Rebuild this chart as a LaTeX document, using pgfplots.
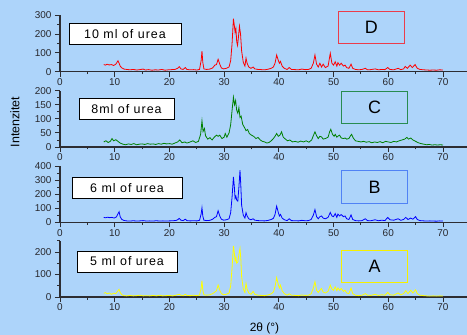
\documentclass[border=0pt]{standalone}
\usepackage{fontspec}
\setmainfont{Liberation Sans}
\newfontfamily\boxfont[LetterSpace=8]{Liberation Sans}
\usepackage{pgfplots}
\pgfplotsset{compat=1.18}
\definecolor{bg}{RGB}{173,212,250}
\definecolor{axgray}{RGB}{45,45,50}
\definecolor{lblgray}{RGB}{40,40,45}
\definecolor{cred}{RGB}{255,0,0}
\definecolor{cgreen}{RGB}{0,128,0}
\definecolor{cblue}{RGB}{0,0,255}
\definecolor{cyellow}{RGB}{255,255,0}
\definecolor{bred}{RGB}{235,60,75}
\definecolor{bgreen}{RGB}{40,140,80}
\definecolor{bblue}{RGB}{80,130,245}
\definecolor{byellow}{RGB}{245,240,0}
\pgfplotsset{panel/.style={
  scale only axis, width=407bp, height=56.3bp,
  anchor=south west,
  xmin=0, xmax=74.39, ymin=0,
  axis lines=left,
  axis line style={-, draw=axgray, line width=1.1bp},
  xtick={0,10,...,70},
  minor x tick num=1,
  minor y tick num=1,
  tick align=outside,
  major tick length=5bp, minor tick length=2.5bp,
  every tick/.style={draw=axgray, line width=0.9bp},
  /pgf/number format/assume math mode=true,
  ticklabel style={font=\fontsize{10}{11}\selectfont, text=lblgray},
  xticklabel style={yshift=1.5bp},
  clip=false,
}}
\begin{document}
\begin{tikzpicture}
\path[use as bounding box, fill=bg] (0,0) rectangle (467bp,335bp);

% Panel D (10 ml)
\begin{axis}[panel, at={(60bp,263.3bp)}, ymax=300, ytick={0,100,200,300}]
\addplot[cred, line width=0.8bp] coordinates {
(8.0,38)(8.3,35)(8.6,40)(9.0,36)(9.4,38)(9.8,33)(10.2,40)(10.6,58)(10.8,45)(11.0,30)(11.3,20)(11.7,14)(12.2,12)(12.8,10)(13.4,12)(14.0,9)(14.6,11)(15.2,14)(15.6,9)(16.2,11)(16.8,8)(17.4,10)(18.0,9)(18.6,12)(19.2,8)(19.8,10)(20.4,11)(21.0,12)(21.5,18)(21.8,27)(22.1,15)(22.5,12)(22.9,22)(23.2,12)(23.8,10)(24.4,11)(25.0,9)(25.5,12)(25.8,60)(25.95,110)(26.1,50)(26.3,15)(26.8,12)(27.4,14)(27.9,20)(28.3,35)(28.6,38)(28.9,66)(29.2,40)(29.5,20)(29.9,15)(30.4,18)(30.9,25)(31.2,60)(31.45,150)(31.7,282)(31.85,250)(32.0,210)(32.15,230)(32.3,160)(32.45,140)(32.6,180)(32.8,242)(33.0,200)(33.2,110)(33.5,50)(33.8,30)(34.0,72)(34.2,45)(34.5,25)(34.9,18)(35.3,25)(35.6,15)(36.2,12)(36.8,11)(37.4,10)(38.0,13)(38.6,18)(39.0,25)(39.3,45)(39.6,89)(39.9,60)(40.1,45)(40.3,55)(40.6,30)(41.0,18)(41.5,12)(41.9,22)(42.3,12)(43.0,11)(43.6,10)(44.2,14)(44.8,11)(45.4,12)(45.9,18)(46.3,45)(46.6,89)(46.9,40)(47.2,25)(47.5,45)(47.8,25)(48.1,40)(48.5,22)(49.0,30)(49.4,98)(49.7,45)(50.0,35)(50.3,53)(50.6,30)(50.8,48)(51.1,35)(51.4,45)(51.8,30)(52.1,35)(52.4,22)(52.8,18)(53.2,40)(53.5,18)(54.0,12)(54.6,10)(55.2,12)(55.8,18)(56.2,10)(56.8,11)(57.6,15)(58.2,10)(58.8,12)(59.4,11)(59.9,22)(60.3,12)(61.0,10)(61.8,18)(62.3,11)(62.8,15)(63.1,28)(63.5,18)(64.0,35)(64.4,22)(64.9,38)(65.3,18)(65.8,12)(66.5,10)(67.0,9)(67.6,8)(68.2,9)(68.8,8)(69.4,10)(70.0,9)
};
\end{axis}

% Panel C (8 ml)
\begin{axis}[panel, at={(60bp,188bp)}, ymax=200, ytick={0,50,100,150,200}]
\addplot[cgreen, line width=0.8bp] coordinates {
(8.0,18)(8.4,22)(8.8,16)(9.2,20)(9.5,30)(9.8,22)(10.2,26)(10.6,20)(11.0,14)(11.5,10)(12.0,8)(12.5,11)(13.0,9)(13.5,12)(14.0,8)(14.5,10)(15.0,11)(15.5,9)(16.0,12)(16.5,10)(17.0,11)(17.5,9)(18.0,12)(18.5,10)(19.0,13)(19.5,11)(20.0,12)(20.5,10)(21.0,14)(21.5,18)(21.9,25)(22.3,15)(22.8,18)(23.2,14)(23.8,18)(24.3,22)(24.8,16)(25.3,20)(25.7,45)(25.95,93)(26.15,55)(26.4,66)(26.6,40)(27.0,28)(27.4,33)(27.8,25)(28.2,35)(28.6,42)(28.9,38)(29.2,42)(29.6,30)(30.0,35)(30.2,48)(30.5,35)(30.9,50)(31.2,80)(31.5,140)(31.7,177)(31.9,150)(32.1,165)(32.3,130)(32.5,120)(32.7,140)(32.9,105)(33.1,110)(33.4,80)(33.7,70)(34.0,58)(34.3,62)(34.6,48)(35.0,42)(35.4,38)(35.8,30)(36.2,34)(36.6,25)(37.0,20)(37.4,18)(37.8,14)(38.2,16)(38.6,22)(39.0,30)(39.3,38)(39.6,48)(39.9,38)(40.2,42)(40.5,54)(40.8,35)(41.2,28)(41.6,22)(42.0,25)(42.5,18)(43.0,20)(43.5,17)(44.0,21)(44.5,18)(45.0,22)(45.5,17)(46.0,25)(46.3,40)(46.6,54)(46.9,40)(47.2,30)(47.5,38)(47.8,36)(48.1,28)(48.5,30)(49.0,35)(49.3,55)(49.5,63)(49.8,45)(50.1,38)(50.3,45)(50.6,35)(50.9,40)(51.1,42)(51.4,32)(51.8,30)(52.1,32)(52.4,28)(52.8,30)(53.1,40)(53.3,45)(53.6,32)(54.0,22)(54.5,20)(55.0,18)(55.5,20)(56.0,17)(56.5,19)(57.0,15)(57.5,18)(58.0,16)(58.5,19)(59.0,15)(59.5,20)(60.0,18)(60.5,16)(61.0,20)(61.5,18)(62.0,22)(62.5,25)(63.0,28)(63.4,34)(63.7,28)(64.1,32)(64.5,25)(65.0,20)(65.5,15)(66.0,12)(66.5,10)(67.0,8)(67.5,9)(68.0,7)(68.5,8)(69.0,7)(69.5,8)(70.0,7)
};
\end{axis}

% Panel B (6 ml)
\begin{axis}[panel, at={(60bp,112.7bp)}, ymax=400, ytick={0,100,200,300,400}]
\addplot[cblue, line width=0.8bp] coordinates {
(8.0,35)(8.3,32)(8.7,36)(9.1,33)(9.5,35)(9.9,30)(10.3,38)(10.6,60)(10.8,75)(11.0,40)(11.3,20)(11.7,13)(12.2,10)(12.8,9)(13.4,11)(14.0,9)(14.6,10)(15.2,12)(15.8,9)(16.4,10)(17.0,9)(17.6,11)(18.2,9)(18.8,10)(19.4,9)(20.0,10)(20.6,11)(21.2,13)(21.5,18)(21.8,28)(22.1,15)(22.5,12)(22.9,22)(23.2,12)(23.8,10)(24.4,11)(25.0,10)(25.5,14)(25.8,60)(25.95,103)(26.1,45)(26.3,15)(26.8,12)(27.4,14)(27.9,22)(28.3,35)(28.6,40)(28.9,82)(29.2,45)(29.5,22)(29.9,15)(30.4,18)(30.9,25)(31.2,70)(31.45,180)(31.7,322)(31.85,260)(32.0,170)(32.15,185)(32.3,158)(32.5,150)(32.7,250)(32.9,370)(33.05,260)(33.2,120)(33.5,50)(33.8,30)(34.0,68)(34.2,45)(34.5,25)(34.9,18)(35.3,25)(35.6,15)(36.2,12)(36.8,11)(37.4,10)(38.0,13)(38.6,20)(39.0,28)(39.3,55)(39.6,115)(39.9,70)(40.1,45)(40.3,56)(40.6,30)(41.0,18)(41.5,12)(41.9,25)(42.3,12)(43.0,11)(43.6,10)(44.2,14)(44.8,11)(45.4,12)(45.9,20)(46.3,50)(46.6,90)(46.9,40)(47.2,25)(47.5,40)(47.8,45)(48.1,30)(48.5,25)(49.0,35)(49.4,70)(49.7,45)(50.0,40)(50.3,62)(50.6,35)(50.8,58)(51.1,45)(51.4,55)(51.8,40)(52.1,45)(52.4,25)(52.8,20)(53.2,52)(53.5,20)(54.0,12)(54.6,10)(55.2,12)(55.8,25)(56.2,12)(56.8,11)(57.6,18)(58.2,11)(58.8,15)(59.4,12)(59.9,35)(60.3,18)(61.0,15)(61.8,25)(62.3,14)(62.8,20)(63.2,35)(63.6,20)(64.1,30)(64.5,22)(65.0,40)(65.3,20)(65.8,12)(66.5,10)(67.0,9)(67.6,10)(68.2,9)(68.8,8)(69.4,10)(70.0,9)
};
\end{axis}

% Panel A (5 ml)
\begin{axis}[panel, at={(60bp,38bp)}, ymax=250, ytick={0,100,200}, minor ytick={50,150,250}, minor y tick num=0]
\addplot[cyellow, line width=0.8bp] coordinates {
(8.0,16)(8.3,20)(8.6,14)(9.0,18)(9.4,12)(9.8,17)(10.2,15)(10.6,28)(10.8,34)(11.0,20)(11.3,10)(11.7,6)(12.2,5)(12.8,7)(13.4,5)(14.0,6)(14.6,8)(15.2,5)(15.8,6)(16.4,5)(17.0,7)(17.6,5)(18.2,8)(18.8,5)(19.4,6)(20.0,7)(20.6,5)(21.2,8)(21.8,12)(22.1,8)(22.5,6)(22.9,12)(23.2,7)(23.8,6)(24.4,8)(25.0,6)(25.5,9)(25.8,40)(25.95,73)(26.1,30)(26.3,10)(26.8,8)(27.4,10)(27.9,15)(28.3,22)(28.6,28)(28.9,53)(29.2,30)(29.5,15)(29.9,10)(30.4,12)(30.9,18)(31.2,50)(31.45,130)(31.7,227)(31.85,200)(32.0,160)(32.15,175)(32.3,150)(32.5,155)(32.7,190)(32.9,216)(33.05,170)(33.2,90)(33.5,35)(33.8,20)(34.0,61)(34.2,35)(34.5,18)(34.9,12)(35.3,25)(35.6,12)(36.2,8)(36.8,7)(37.4,6)(38.0,9)(38.6,14)(39.0,22)(39.3,45)(39.6,86)(39.9,55)(40.1,40)(40.3,53)(40.6,28)(41.0,15)(41.5,8)(41.9,14)(42.3,8)(43.0,7)(43.6,6)(44.2,9)(44.8,7)(45.4,8)(45.9,14)(46.3,40)(46.6,68)(46.9,30)(47.2,20)(47.5,30)(47.8,38)(48.1,22)(48.5,18)(49.0,25)(49.4,53)(49.7,35)(50.0,30)(50.3,45)(50.6,28)(50.8,40)(51.1,30)(51.4,38)(51.8,25)(52.1,30)(52.4,18)(52.8,15)(53.2,40)(53.5,15)(54.0,8)(54.6,6)(55.2,8)(55.8,15)(56.2,8)(56.8,7)(57.6,12)(58.2,7)(58.8,10)(59.4,8)(59.9,20)(60.3,10)(61.0,8)(61.8,18)(62.3,9)(62.8,15)(63.2,28)(63.6,15)(64.1,30)(64.5,18)(65.0,32)(65.3,15)(65.8,8)(66.5,6)(67.0,5)(67.6,4)(68.2,5)(68.8,4)(69.4,5)(70.0,4)
};
\end{axis}

% annotation boxes
\tikzset{lbl/.style={draw=black, fill=white, line width=0.8bp, inner sep=0pt, minimum height=21bp, font=\boxfont\fontsize{12.5}{14}\selectfont},
         let/.style={line width=0.9bp, inner sep=0pt, minimum width=65.5bp, minimum height=32.3bp, font=\fontsize{18}{20}\selectfont}}
\node[lbl, minimum width=112bp] at (125bp,301.3bp) {10 ml of urea};
\node[lbl, minimum width=95bp] at (126.5bp,226.2bp) {8ml of urea};
\node[lbl, minimum width=110bp] at (127bp,147bp) {6 ml of urea};
\node[lbl, minimum width=100bp] at (127bp,73.5bp) {5 ml of urea};
\node[let, draw=bred] at (371.3bp,307.2bp) {D};
\node[let, draw=bgreen] at (374.5bp,227.8bp) {C};
\node[let, draw=bblue] at (374.5bp,148bp) {B};
\node[let, draw=byellow] at (374.5bp,68.8bp) {A};

% axis titles
\node[rotate=90, font=\fontsize{12.5}{14}\selectfont, text=black] at (15bp,213bp) {Intenzitet};
\node[font=\fontsize{12}{13}\selectfont, text=black, anchor=south, inner sep=0pt] at (264.5bp,1bp) {2θ (°)};
\end{tikzpicture}
\end{document}
